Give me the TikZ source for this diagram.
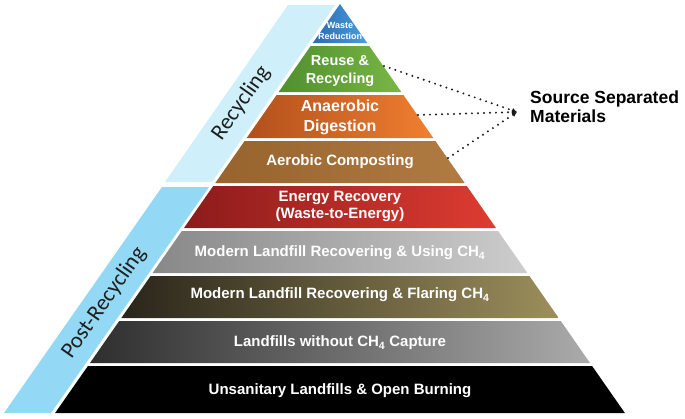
\documentclass[tikz,border=0pt]{standalone}
\usepackage{fontspec}
\setmainfont{Liberation Sans}
\newfontfamily\bandfont{Carlito}
\usetikzlibrary{arrows.meta}

\definecolor{recband}{HTML}{CFEFFB}
\definecolor{postband}{HTML}{93D8F5}
\definecolor{wrleft}{HTML}{2A6CB3}
\definecolor{wrright}{HTML}{4C9CDA}
\definecolor{rrleft}{HTML}{4F8F2E}
\definecolor{rrright}{HTML}{7AB646}
\definecolor{adleft}{HTML}{B2501C}
\definecolor{adright}{HTML}{F07F30}
\definecolor{acleft}{HTML}{97632E}
\definecolor{acright}{HTML}{B07C42}
\definecolor{erleft}{HTML}{8C1B1B}
\definecolor{erright}{HTML}{DD3C31}
\definecolor{muleft}{HTML}{888888}
\definecolor{muright}{HTML}{CDCDCD}
\definecolor{mfleft}{HTML}{29251A}
\definecolor{mfright}{HTML}{9C8F5C}
\definecolor{lwleft}{HTML}{2E2E2E}
\definecolor{lwright}{HTML}{ABABAB}

\tikzset{
    layertext/.style={text=white, align=center,
      font=\bfseries\fontsize{15}{17}\selectfont},
    bandtext/.style={text=black!88, rotate=55,
      font=\bandfont\fontsize{22.5}{24}\selectfont},
    feed/.style={black!90, line width=2.2pt, line cap=round,
      dash pattern=on 0pt off 6pt, -{Latex[length=5pt,width=5pt]}}
}

\begin{document}
\begin{tikzpicture}[x=1pt, y=-1pt]
    \useasboundingbox (0,0) rectangle (685,418);

    % side bands
    \fill[recband] (288,5) -- (335,5) -- (212,182) -- (165,182) -- cycle;
    \fill[postband] (162,187) -- (209,187) -- (51,413) -- (4,413) -- cycle;
    \node[bandtext] (rec) at (241,103) {Recycling};
    \node[bandtext] (post) at (104,303) {Post-Recycling};

    %%%%
    \shade[left color=wrleft, right color=wrright]
      (340,4) -- (367.2,43) -- (312.8,43) -- cycle;
    \shade[left color=rrleft, right color=rrright]
      (310.7,46) -- (369.3,46) -- (401.3,92) -- (278.7,92) -- cycle;
    \shade[left color=adleft, right color=adright]
      (276.6,95) -- (403.4,95) -- (433.3,138) -- (246.7,138) -- cycle;
    \shade[left color=acleft, right color=acright]
      (244.6,141) -- (435.4,141) -- (464.7,183) -- (215.3,183) -- cycle;
    \shade[left color=erleft, right color=erright]
      (213.2,186) -- (466.8,186) -- (496,228) -- (184,228) -- cycle;
    \shade[left color=muleft, right color=muright]
      (181.9,231) -- (498.1,231) -- (527.4,273) -- (152.6,273) -- cycle;
    \shade[left color=mfleft, right color=mfright]
      (150.6,276) -- (529.4,276) -- (558.7,318) -- (121.3,318) -- cycle;
    \shade[left color=lwleft, right color=lwright]
      (119.2,321) -- (560.8,321) -- (590,363) -- (90,363) -- cycle;
    \fill[black]
      (87.9,366) -- (592.1,366) -- (624.9,413) -- (55.1,413) -- cycle;

    %%%%
    \node[layertext, font=\bfseries\fontsize{9}{11}\selectfont] (wr) at (340,31)
      {Waste\\Reduction};
    \node[layertext, font=\bfseries\fontsize{14.5}{18}\selectfont] (rr) at (340,71)
      {Reuse \&\\Recycling};
    \node[layertext, font=\bfseries\fontsize{16}{20}\selectfont] (ad) at (340,117)
      {Anaerobic\\Digestion};
    \node[layertext] (ac) at (340,162) {Aerobic Composting};
    \node[layertext] (er) at (340,206) {Energy Recovery\\(Waste-to-Energy)};
    \node[layertext] (mu) at (340,253)
      {Modern Landfill Recovering \& Using CH\textsubscript{4}};
    \node[layertext] (mf) at (340,295)
      {Modern Landfill Recovering \& Flaring CH\textsubscript{4}};
    \node[layertext] (lw) at (340,343) {Landfills without CH\textsubscript{4} Capture};
    \node[layertext] (ul) at (340,391) {Unsanitary Landfills \& Open Burning};

    %%%%
    \node[anchor=west, align=left, inner sep=0pt,
      font=\bfseries\fontsize{17.5}{19}\selectfont] (ssm) at (530,107)
      {Source Separated\\Materials};
    \coordinate (rr end) at (384,66);
    \coordinate (ad end) at (418,115);
    \coordinate (ac end) at (448,158);
    \coordinate (tip) at (517,112);
    \draw[feed] (rr end) -- (tip);
    \draw[feed] (ad end) -- (tip);
    \draw[feed] (ac end) -- (tip);
\end{tikzpicture}
\end{document}
